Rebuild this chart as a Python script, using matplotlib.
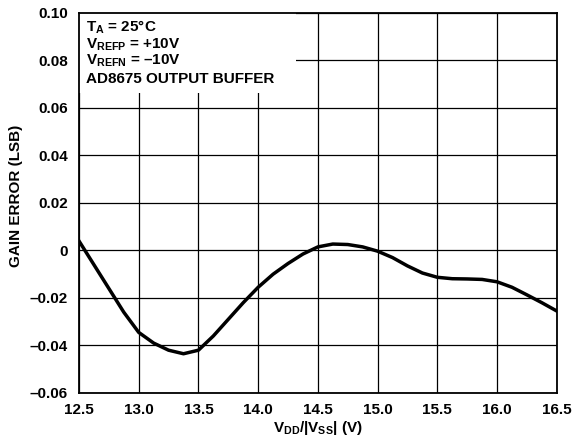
import matplotlib
matplotlib.use("Agg")
import matplotlib.pyplot as plt
from matplotlib.patches import Rectangle

plt.rcParams['font.family'] = ['Liberation Sans', 'DejaVu Sans']
plt.rcParams['font.weight'] = 'bold'
plt.rcParams['mathtext.fontset'] = 'custom'
plt.rcParams['mathtext.rm'] = 'Liberation Sans:bold'
plt.rcParams['mathtext.it'] = 'Liberation Sans:bold'
plt.rcParams['mathtext.bf'] = 'Liberation Sans:bold'

# supply voltage (V) and gain error (LSB)
vdd = [12.5, 12.625, 12.75, 12.875, 13.0, 13.125, 13.25, 13.375, 13.5, 13.625,
       13.75, 13.875, 14.0, 14.125, 14.25, 14.375, 14.5, 14.625, 14.75, 14.875,
       15.0, 15.125, 15.25, 15.375, 15.5, 15.625, 15.75, 15.875, 16.0, 16.125,
       16.25, 16.375, 16.5]
gain_err = [0.004, -0.006, -0.016, -0.026, -0.0345, -0.039, -0.042, -0.0435, -0.042, -0.036,
            -0.029, -0.022, -0.0155, -0.010, -0.0055, -0.0015, 0.0015, 0.0027, 0.0025, 0.0015,
            -0.0003, -0.003, -0.0065, -0.0095, -0.0113, -0.0119, -0.0120, -0.0122, -0.0132, -0.0155,
            -0.0187, -0.022, -0.0255]

x_ticks = [12.5, 13.0, 13.5, 14.0, 14.5, 15.0, 15.5, 16.0, 16.5]
x_labels = ["12.5", "13.0", "13.5", "14.0", "14.5", "15.0", "15.5", "16.0", "16.5"]
y_ticks = [-0.06, -0.04, -0.02, 0, 0.02, 0.04, 0.06, 0.08, 0.10]
y_labels = ["\u20130.06", "\u20130.04", "\u20130.02", "0", "0.02", "0.04", "0.06", "0.08", "0.10"]

fig = plt.figure(figsize=(5.74, 4.42), dpi=100)
ax = fig.add_axes([0.1376, 0.111, 0.8324, 0.8596])

ax.plot(vdd, gain_err, color='black', lw=2.5, zorder=3, solid_joinstyle='round')
ax.set_xlim(12.5, 16.5)
ax.set_ylim(-0.06, 0.10)
ax.set_xticks(x_ticks)
ax.set_xticklabels(x_labels)
ax.set_yticks(y_ticks)
ax.set_yticklabels(y_labels)
ax.tick_params(length=0, labelsize=11)
ax.tick_params(axis='y', pad=8)
ax.tick_params(axis='x', pad=7)
ax.set_axisbelow(True)
ax.grid(True, color='black', lw=0.9)
for s in ax.spines.values():
    s.set_linewidth(1.3)

# white block behind the condition notes
ax.add_patch(Rectangle((12.5, 0.0663), 1.82, 0.0337, facecolor='white',
                       edgecolor='none', zorder=1))
notes = ["T$_{A}$ = 25\u00b0C", "V$_{REFP}$ = +10V", "V$_{REFN}$ = \u201310V",
         "AD8675 OUTPUT BUFFER"]
note_y = [0.950, 0.907, 0.863, 0.816]
for t, yy in zip(notes, note_y):
    ax.text(0.015, yy, t, transform=ax.transAxes, fontsize=11,
            fontweight='bold', va='baseline', ha='left', zorder=4)

ax.set_xlabel("V$_{DD}$/|V$_{SS}$| (V)", fontsize=11, fontweight='bold')
ax.xaxis.set_label_coords(0.5, -0.068)
ax.set_ylabel("GAIN ERROR (LSB)", fontsize=11, fontweight='bold')
ax.yaxis.set_label_coords(-0.118, 0.518)

fig.savefig("out.png", dpi=100)
